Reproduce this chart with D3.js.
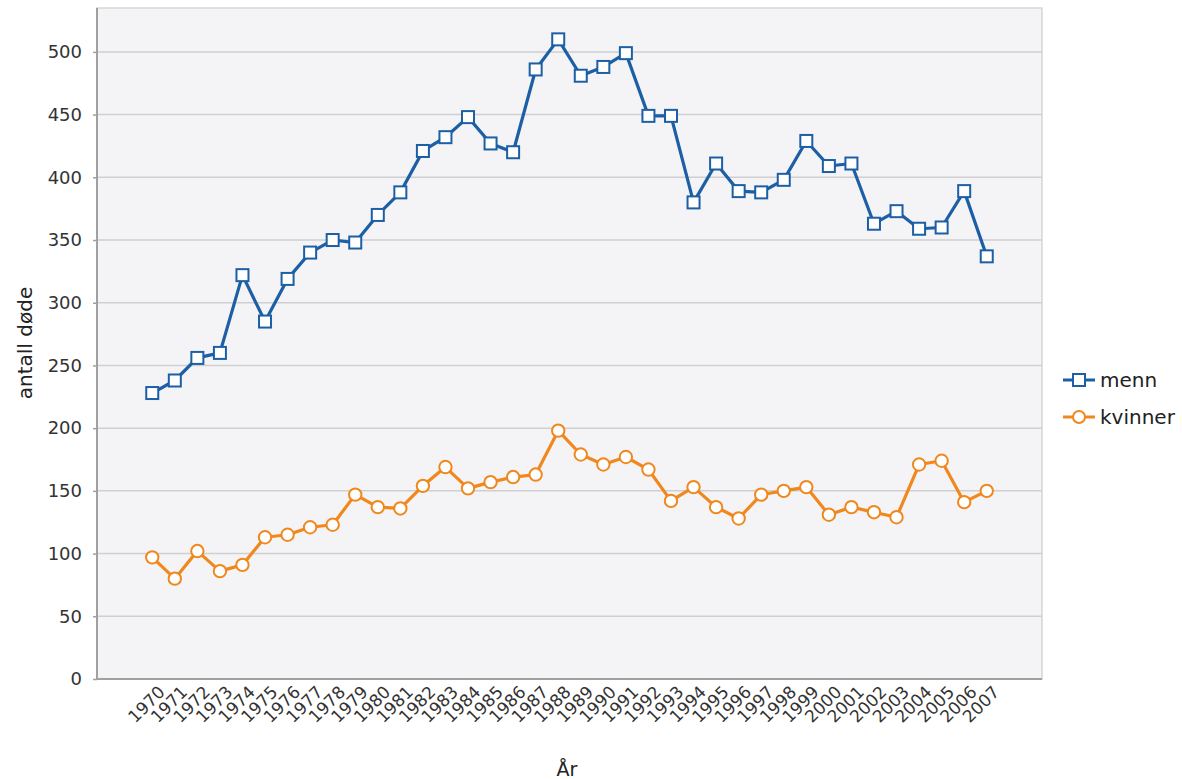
<!DOCTYPE html>
<html><head><meta charset="utf-8">
<script src="https://cdn.jsdelivr.net/npm/d3@7"></script>
<style>body{margin:0;background:#fff;font-family:"DejaVu Sans",sans-serif}</style>
</head><body><svg id="c" width="1182" height="779"></svg>
<script>
const years = d3.range(1970, 2008).map(String);
const menn = [228,238,256,260,322,285,319,340,350,348,370,388,421,432,448,427,420,486,510,481,488,499,449,449,380,411,389,388,398,429,409,411,363,373,359,360,389,337];
const kvinner = [97,80,102,86,91,113,115,121,123,147,137,136,154,169,152,157,161,163,198,179,171,177,167,142,153,137,128,147,150,153,131,137,133,129,171,174,141,150];
const yTicks = [0,50,100,150,200,250,300,350,400,450,500];
const seriesNames = ["menn","kvinner"];
const colors = ["#1c5fa5","#f0881d"];
const FONT = "DejaVu Sans, sans-serif";

const svg = d3.select("#c");
const L=97, T=8, R=1042, B=679;
const x = d3.scalePoint().domain(years).range([L,R]).padding(2.45);
const y = d3.scaleLinear().domain([0,535]).range([B,T]);

svg.append("rect").attr("x",L).attr("y",T).attr("width",R-L).attr("height",B-T).attr("fill","#f4f4f6").attr("stroke","#d6d6d6").attr("stroke-width",1.5);
svg.append("g").selectAll("line").data(yTicks.slice(1)).join("line")
  .attr("x1",L).attr("x2",R).attr("y1",d=>y(d)).attr("y2",d=>y(d)).attr("stroke","#cfcfd2").attr("stroke-width",1.5);

const ya = svg.append("g").attr("transform",`translate(${L},0)`).call(d3.axisLeft(y).tickValues(yTicks).tickSize(4).tickPadding(11));
ya.select(".domain").remove();
ya.selectAll("line").attr("stroke","#a0a0a0").attr("stroke-width",1.5);
ya.selectAll("text").attr("font-size",18).attr("fill","#333").attr("font-family",FONT);
svg.append("line").attr("x1",L).attr("x2",L).attr("y1",T).attr("y2",B).attr("stroke","#a0a0a0").attr("stroke-width",2);
svg.append("line").attr("x1",L).attr("x2",R).attr("y1",B).attr("y2",B).attr("stroke","#a0a0a0").attr("stroke-width",2);

const xa = svg.append("g").attr("transform",`translate(0,${B})`).call(d3.axisBottom(x).tickSize(0));
xa.select(".domain").remove();
xa.selectAll("text").attr("font-size",17).attr("fill","#333").attr("font-family",FONT)
  .attr("text-anchor","end").attr("transform","translate(9,10) rotate(-45)").attr("dy","0.35em").attr("y",0);

svg.append("text").attr("x",567).attr("y",776).attr("text-anchor","middle").attr("font-size",19).attr("font-family",FONT).attr("fill","#222").text("År");
svg.append("text").attr("transform","translate(32,343) rotate(-90)").attr("text-anchor","middle").attr("font-size",20).attr("font-family",FONT).attr("fill","#222").text("antall døde");

const data=[menn,kvinner];
const line = d3.line().x((d,i)=>x(years[i])).y(d=>y(d));
data.forEach((s,k)=>{
  svg.append("path").datum(s).attr("d",line).attr("fill","none").attr("stroke",colors[k]).attr("stroke-width",3.2).attr("stroke-linejoin","round");
  const g = svg.append("g");
  if(k===0){
    g.selectAll("rect").data(s).join("rect").attr("x",(d,i)=>x(years[i])-6).attr("y",d=>y(d)-6).attr("width",12).attr("height",12)
      .attr("fill","#fff").attr("stroke",colors[k]).attr("stroke-width",2);
  } else {
    g.selectAll("circle").data(s).join("circle").attr("cx",(d,i)=>x(years[i])).attr("cy",d=>y(d)).attr("r",6.2)
      .attr("fill","#fff").attr("stroke",colors[k]).attr("stroke-width",2);
  }
});

const lg = svg.append("g");
seriesNames.forEach((n,k)=>{
  const cy = 380 + k*37;
  lg.append("line").attr("x1",1063).attr("x2",1095).attr("y1",cy).attr("y2",cy).attr("stroke",colors[k]).attr("stroke-width",3);
  if(k===0) lg.append("rect").attr("x",1073).attr("y",cy-6).attr("width",12).attr("height",12).attr("fill","#fff").attr("stroke",colors[k]).attr("stroke-width",2);
  else lg.append("circle").attr("cx",1079).attr("cy",cy).attr("r",6).attr("fill","#fff").attr("stroke",colors[k]).attr("stroke-width",2);
  lg.append("text").attr("x",1100).attr("y",cy).attr("dy","0.35em").attr("font-size",20).attr("font-family",FONT).attr("fill","#222").text(n);
});
</script></body></html>
